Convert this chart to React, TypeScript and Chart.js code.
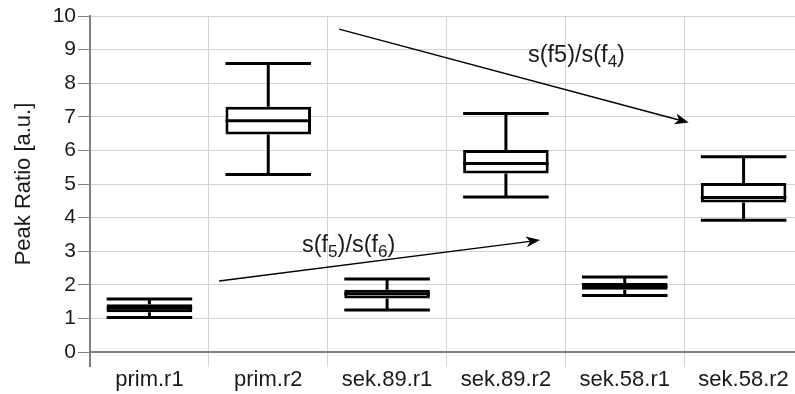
import React, { useEffect, useRef } from "react";
import { Chart, registerables } from "chart.js";
Chart.register(...registerables);

const categories = ["prim.r1", "prim.r2", "sek.89.r1", "sek.89.r2", "sek.58.r1", "sek.58.r2"];
const whiskerLow = [1.03, 5.28, 1.25, 4.61, 1.68, 3.92];
const quartile1 = [1.18, 6.47, 1.59, 5.31, 1.85, 4.45];
const median = [1.3, 6.88, 1.73, 5.61, 1.95, 4.6];
const quartile3 = [1.42, 7.3, 1.85, 6.01, 2.05, 5.03];
const whiskerHigh = [1.58, 8.59, 2.17, 7.1, 2.23, 5.81];

const yMin = 0;
const yMax = 10;
const yStep = 1;

// annotation arrows in data coordinates [x (category index), y]
const arrowStarts = [[1.596, 9.61], [0.586, 2.11]];
const arrowEnds = [[4.538, 6.83], [3.287, 3.33]];
// annotation labels: parts with subscript flags
const labelAnchors = [[3.186, 8.63], [1.284, 2.98]];
const labelParts = [
  [{ t: "s(f5)/s(f", sub: false }, { t: "4", sub: true }, { t: ")", sub: false }],
  [{ t: "s(f", sub: false }, { t: "5", sub: true }, { t: ")/s(f", sub: false }, { t: "6", sub: true }, { t: ")", sub: false }],
];

const FONT = "'Liberation Sans', Arial, Helvetica, sans-serif";

const boxPlugin = {
  id: "boxExtras",
  beforeDatasetsDraw(chart: any) {
    const ctx = chart.ctx;
    const xs = chart.scales.x;
    const ys = chart.scales.y;
    const meta = chart.getDatasetMeta(0);
    ctx.save();
    ctx.strokeStyle = "#000";
    ctx.lineWidth = 3;
    ctx.lineCap = "butt";
    categories.forEach((_, i) => {
      const cx = xs.getPixelForValue(i);
      const w = meta.data[i] ? meta.data[i].width : 80;
      const yl = ys.getPixelForValue(whiskerLow[i]);
      const yh = ys.getPixelForValue(whiskerHigh[i]);
      const y1 = ys.getPixelForValue(quartile1[i]);
      const y3 = ys.getPixelForValue(quartile3[i]);
      ctx.beginPath();
      ctx.moveTo(cx, yl);
      ctx.lineTo(cx, y1);
      ctx.moveTo(cx, y3);
      ctx.lineTo(cx, yh);
      ctx.moveTo(cx - w / 2, yl);
      ctx.lineTo(cx + w / 2, yl);
      ctx.moveTo(cx - w / 2, yh);
      ctx.lineTo(cx + w / 2, yh);
      ctx.stroke();
    });
    ctx.restore();
  },
  afterDatasetsDraw(chart: any) {
    const ctx = chart.ctx;
    const xs = chart.scales.x;
    const ys = chart.scales.y;
    const meta = chart.getDatasetMeta(0);
    ctx.save();
    ctx.strokeStyle = "#000";
    ctx.lineWidth = 3;
    categories.forEach((_, i) => {
      const cx = xs.getPixelForValue(i);
      const w = meta.data[i] ? meta.data[i].width : 80;
      const ym = ys.getPixelForValue(median[i]);
      ctx.beginPath();
      ctx.moveTo(cx - w / 2, ym);
      ctx.lineTo(cx + w / 2, ym);
      ctx.stroke();
    });
    // arrows
    ctx.lineWidth = 1.5;
    ctx.fillStyle = "#000";
    arrowStarts.forEach((s, k) => {
      const e = arrowEnds[k];
      const x0 = xs.getPixelForValue(s[0]);
      const y0 = ys.getPixelForValue(s[1]);
      const x1 = xs.getPixelForValue(e[0]);
      const y1 = ys.getPixelForValue(e[1]);
      const ang = Math.atan2(y1 - y0, x1 - x0);
      const L = 14;
      const H = 5.5;
      const back = (d: number, off: number) => [
        x1 - d * Math.cos(ang) - off * Math.sin(ang),
        y1 - d * Math.sin(ang) + off * Math.cos(ang),
      ];
      const [nx, ny] = back(10, 0);
      ctx.beginPath();
      ctx.moveTo(x0, y0);
      ctx.lineTo(nx, ny);
      ctx.stroke();
      const [ax, ay] = back(L, H);
      const [bx, by] = back(L, -H);
      ctx.beginPath();
      ctx.moveTo(x1, y1);
      ctx.lineTo(ax, ay);
      ctx.lineTo(nx, ny);
      ctx.lineTo(bx, by);
      ctx.closePath();
      ctx.fill();
    });
    // labels
    ctx.fillStyle = "#1a1a1a";
    ctx.textBaseline = "alphabetic";
    ctx.textAlign = "left";
    labelAnchors.forEach((a, k) => {
      let x = xs.getPixelForValue(a[0]);
      const y = ys.getPixelForValue(a[1]);
      labelParts[k].forEach((p) => {
        ctx.font = p.sub ? `17px ${FONT}` : `23.5px ${FONT}`;
        ctx.fillText(p.t, x, p.sub ? y + 5 : y);
        x += ctx.measureText(p.t).width;
      });
    });
    ctx.restore();
  },
};

export default function App() {
  const ref = useRef<HTMLCanvasElement | null>(null);
  useEffect(() => {
    if (!ref.current) return;
    const chart = new Chart(ref.current, {
      type: "bar",
      data: {
        labels: categories,
        datasets: [
          {
            data: categories.map((_, i) => [quartile1[i], quartile3[i]]) as any,
            backgroundColor: "#ffffff",
            borderColor: "#000000",
            borderWidth: 3,
            borderSkipped: false,
            categoryPercentage: 1,
            barPercentage: 0.72,
          },
        ],
      },
      options: {
        responsive: false,
        animation: false,
        devicePixelRatio: 1,
        layout: { padding: { top: 16, right: 0, bottom: 0, left: 0 } },
        plugins: { legend: { display: false }, tooltip: { enabled: false }, title: { display: false } },
        scales: {
          x: {
            type: "category",
            offset: true,
            grid: {
              offset: true,
              color: (c: any) => (c.index === 0 ? "#808080" : "#d3d3d3"),
              lineWidth: (c: any) => (c.index === 0 ? 2 : 1),
              tickLength: 15,
            },
            border: { color: "#808080", width: 2 },
            ticks: { font: { family: FONT, size: 22 }, color: "#1a1a1a", padding: 0, maxRotation: 0, autoSkip: false },
            afterFit: (s: any) => {
              s.height = 42;
            },
          },
          y: {
            min: yMin,
            max: yMax,
            ticks: { stepSize: yStep, font: { family: FONT, size: 21 }, color: "#1a1a1a", padding: 2 },
            grid: { color: "#d3d3d3", tickColor: "#808080", tickLength: 12 },
            border: { color: "#808080", width: 2 },
            title: {
              display: true,
              text: "Peak Ratio [a.u.]",
              font: { family: FONT, size: 22 },
              color: "#1a1a1a",
              padding: { top: 11, bottom: 0 },
            },
            afterFit: (s: any) => {
              s.width = 90;
            },
          },
        },
      },
      plugins: [boxPlugin],
    });
    return () => chart.destroy();
  }, []);
  return (
    <div style={{ position: "absolute", left: 0, top: 0, width: 795, height: 394, overflow: "hidden", background: "#fff" }}>
      <canvas ref={ref} width={803} height={394} style={{ width: 803, height: 394, display: "block" }} />
    </div>
  );
}
